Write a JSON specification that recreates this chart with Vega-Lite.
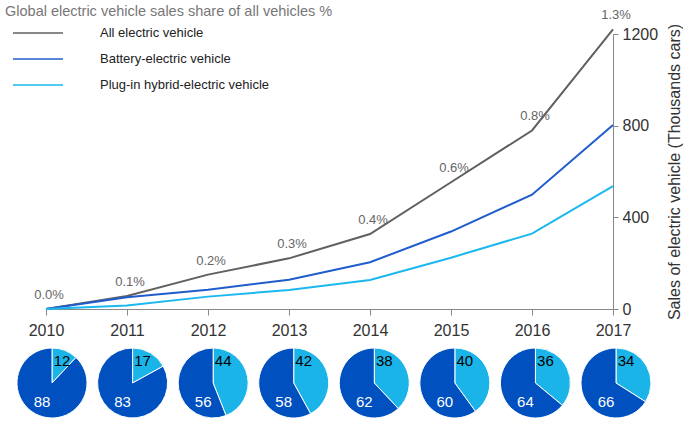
{
  "$schema": "https://vega.github.io/schema/vega-lite/v6.json",
  "padding": {"left": 5, "top": 3, "right": 0, "bottom": 0},
  "background": "white",
  "config": {
    "font": "Liberation Sans",
    "view": {"stroke": null},
    "axis": {"grid": false}
  },
  "datasets": {
    "sales": [
      {"year": 2010, "series": "All electric vehicle", "sales": 0},
      {"year": 2011, "series": "All electric vehicle", "sales": 57},
      {"year": 2012, "series": "All electric vehicle", "sales": 150},
      {"year": 2013, "series": "All electric vehicle", "sales": 221},
      {"year": 2014, "series": "All electric vehicle", "sales": 327},
      {"year": 2015, "series": "All electric vehicle", "sales": 553},
      {"year": 2016, "series": "All electric vehicle", "sales": 779},
      {"year": 2017, "series": "All electric vehicle", "sales": 1220},
      {"year": 2010, "series": "Battery-electric vehicle", "sales": 0},
      {"year": 2011, "series": "Battery-electric vehicle", "sales": 51},
      {"year": 2012, "series": "Battery-electric vehicle", "sales": 84},
      {"year": 2013, "series": "Battery-electric vehicle", "sales": 128},
      {"year": 2014, "series": "Battery-electric vehicle", "sales": 204},
      {"year": 2015, "series": "Battery-electric vehicle", "sales": 338},
      {"year": 2016, "series": "Battery-electric vehicle", "sales": 499},
      {"year": 2017, "series": "Battery-electric vehicle", "sales": 803},
      {"year": 2010, "series": "Plug-in hybrid-electric vehicle", "sales": 0},
      {"year": 2011, "series": "Plug-in hybrid-electric vehicle", "sales": 15},
      {"year": 2012, "series": "Plug-in hybrid-electric vehicle", "sales": 54},
      {"year": 2013, "series": "Plug-in hybrid-electric vehicle", "sales": 83},
      {"year": 2014, "series": "Plug-in hybrid-electric vehicle", "sales": 127},
      {"year": 2015, "series": "Plug-in hybrid-electric vehicle", "sales": 224},
      {"year": 2016, "series": "Plug-in hybrid-electric vehicle", "sales": 329},
      {"year": 2017, "series": "Plug-in hybrid-electric vehicle", "sales": 536}
    ],
    "share": [
      {"year": 2010, "sales": 0, "pct": "0.0%"},
      {"year": 2011, "sales": 57, "pct": "0.1%"},
      {"year": 2012, "sales": 150, "pct": "0.2%"},
      {"year": 2013, "sales": 221, "pct": "0.3%"},
      {"year": 2014, "sales": 327, "pct": "0.4%"},
      {"year": 2015, "sales": 553, "pct": "0.6%"},
      {"year": 2016, "sales": 779, "pct": "0.8%"},
      {"year": 2017, "sales": 1220, "pct": "1.3%"}
    ],
    "pies": [
      {"year": 2010, "type": "PHEV", "share": 12},
      {"year": 2010, "type": "BEV", "share": 88},
      {"year": 2011, "type": "PHEV", "share": 17},
      {"year": 2011, "type": "BEV", "share": 83},
      {"year": 2012, "type": "PHEV", "share": 44},
      {"year": 2012, "type": "BEV", "share": 56},
      {"year": 2013, "type": "PHEV", "share": 42},
      {"year": 2013, "type": "BEV", "share": 58},
      {"year": 2014, "type": "PHEV", "share": 38},
      {"year": 2014, "type": "BEV", "share": 62},
      {"year": 2015, "type": "PHEV", "share": 40},
      {"year": 2015, "type": "BEV", "share": 60},
      {"year": 2016, "type": "PHEV", "share": 36},
      {"year": 2016, "type": "BEV", "share": 64},
      {"year": 2017, "type": "PHEV", "share": 34},
      {"year": 2017, "type": "BEV", "share": 66}
    ]
  },
  "spacing": 7,
  "resolve": {"scale": {"color": "independent", "x": "independent"}, "legend": {"color": "independent"}},
  "vconcat": [
    {
      "width": 567,
      "height": 275,
      "title": {
        "text": "Global electric vehicle sales share of all vehicles %",
        "anchor": "start",
        "frame": "group",
        "dx": -41,
        "offset": -10,
        "fontSize": 14.5,
        "fontWeight": "normal",
        "color": "#777777"
      },
      "layer": [
        {
          "data": {"name": "sales"},
          "mark": {"type": "line", "strokeWidth": 2, "clip": false},
          "encoding": {
            "x": {
              "field": "year",
              "type": "quantitative",
              "scale": {"domain": [2010, 2017], "nice": false, "zero": false},
              "axis": {
                "values": [2010, 2011, 2012, 2013, 2014, 2015, 2016, 2017],
                "format": "d",
                "title": null,
                "labelFontSize": 16,
                "labelColor": "#333333",
                "labelPadding": 7,
                "domainColor": "#888888",
                "tickColor": "#888888",
                "tickSize": 6,
                "labelFlush": false
              }
            },
            "y": {
              "field": "sales",
              "type": "quantitative",
              "scale": {"domain": [0, 1200], "nice": false},
              "axis": {
                "orient": "right",
                "values": [0, 400, 800, 1200],
                "format": "d",
                "title": "Sales of electric vehicle (Thousands cars)",
                "titleAngle": 270,
                "titleBaseline": "top",
                "titleFontSize": 16,
                "titleFontWeight": "normal",
                "titleColor": "#333333",
                "titlePadding": 9,
                "labelFontSize": 16,
                "labelColor": "#333333",
                "labelPadding": 4,
                "domainColor": "#888888",
                "tickColor": "#888888",
                "tickSize": 5
              }
            },
            "color": {
              "field": "series",
              "type": "nominal",
              "scale": {
                "domain": ["All electric vehicle", "Battery-electric vehicle", "Plug-in hybrid-electric vehicle"],
                "range": ["#606060", "#1f5ccc", "#1ab8ee"]
              },
              "legend": {
                "orient": "none",
                "legendX": -34,
                "legendY": -9,
                "title": null,
                "padding": 0,
                "symbolType": "stroke",
                "symbolSize": 2500,
                "symbolStrokeWidth": 1.5,
                "clipHeight": 16,
                "rowPadding": 10,
                "labelOffset": 36,
                "labelFontSize": 13,
                "labelColor": "#222222",
                "labelLimit": 300
              }
            }
          }
        },
        {
          "data": {"name": "share"},
          "mark": {"type": "text", "fontSize": 13, "color": "#666666", "dy": -10, "dx": 3, "baseline": "alphabetic"},
          "encoding": {
            "x": {"field": "year", "type": "quantitative"},
            "y": {"field": "sales", "type": "quantitative"},
            "text": {"field": "pct"}
          }
        }
      ]
    },
    {
      "width": 567,
      "height": 76,
      "data": {"name": "pies"},
      "transform": [
        {"stack": "share", "groupby": ["year"], "sort": [{"field": "type", "order": "descending"}], "as": ["t0", "t1"]}
      ],
      "encoding": {
        "x": {
          "field": "year",
          "type": "ordinal",
          "scale": {"type": "point", "range": [6, 570], "padding": 0},
          "axis": null
        }
      },
      "layer": [
        {
          "mark": {"type": "arc", "outerRadius": 35, "stroke": "white", "strokeWidth": 1},
          "encoding": {
            "theta": {"field": "t0", "type": "quantitative", "scale": {"domain": [0, 100]}},
            "theta2": {"field": "t1"},
            "color": {
              "field": "type",
              "type": "nominal",
              "scale": {"domain": ["PHEV", "BEV"], "range": ["#1ab4e8", "#0050c0"]},
              "legend": null
            }
          }
        },
        {
          "transform": [{"filter": "datum.type == 'PHEV'"}],
          "mark": {"type": "text", "fontSize": 15, "color": "black", "dx": 10, "dy": -22},
          "encoding": {"text": {"field": "share"}}
        },
        {
          "transform": [{"filter": "datum.type == 'BEV'"}],
          "mark": {"type": "text", "fontSize": 15, "color": "white", "dx": -10, "dy": 19},
          "encoding": {"text": {"field": "share"}}
        }
      ]
    }
  ]
}
